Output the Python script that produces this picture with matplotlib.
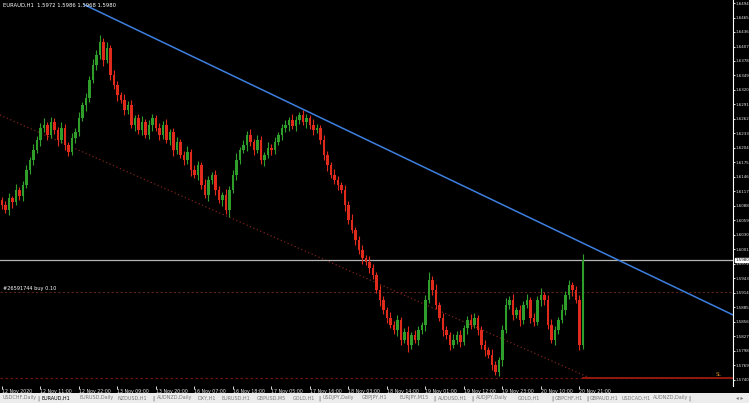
import numpy as np
import matplotlib
matplotlib.use("Agg")
import matplotlib.pyplot as plt
from matplotlib.patches import Rectangle

# EURAUD H1 candles (close prices, open = previous close)
first_open = 1.6100
closes = [
    1.6090, 1.6080, 1.6104, 1.6096, 1.6120, 1.6108, 1.6130, 1.6160, 1.6180, 1.6200,
    1.6220, 1.6244, 1.6250, 1.6230, 1.6256, 1.6240, 1.6220, 1.6244, 1.6210, 1.6196,
    1.6224, 1.6236, 1.6264, 1.6290, 1.6304, 1.6340, 1.6370, 1.6390, 1.6416, 1.6380,
    1.6404, 1.6350, 1.6330, 1.6310, 1.6300, 1.6280, 1.6290, 1.6250, 1.6264, 1.6240,
    1.6256, 1.6230, 1.6250, 1.6264, 1.6244, 1.6230, 1.6250, 1.6220, 1.6236, 1.6200,
    1.6216, 1.6190, 1.6180, 1.6196, 1.6160, 1.6150, 1.6170, 1.6130, 1.6110, 1.6140,
    1.6150, 1.6120, 1.6100, 1.6110, 1.6080, 1.6120, 1.6150, 1.6180, 1.6200, 1.6210,
    1.6230, 1.6216, 1.6200, 1.6220, 1.6180, 1.6190, 1.6204, 1.6200, 1.6216, 1.6230,
    1.6244, 1.6250, 1.6260, 1.6248, 1.6260, 1.6270, 1.6256, 1.6264, 1.6250, 1.6240,
    1.6244, 1.6220, 1.6190, 1.6170, 1.6150, 1.6140, 1.6130, 1.6120, 1.6090, 1.6060,
    1.6040, 1.6020, 1.6000, 1.5984, 1.5976, 1.5964, 1.5950, 1.5920, 1.5900, 1.5880,
    1.5864, 1.5850, 1.5840, 1.5860, 1.5820, 1.5836, 1.5810, 1.5830, 1.5820, 1.5840,
    1.5850, 1.5900, 1.5940, 1.5920, 1.5890, 1.5864, 1.5840, 1.5830, 1.5810, 1.5820,
    1.5830, 1.5816, 1.5844, 1.5860, 1.5850, 1.5864, 1.5840, 1.5810, 1.5800, 1.5790,
    1.5770, 1.5756, 1.5780, 1.5840, 1.5890, 1.5900, 1.5870, 1.5880, 1.5860, 1.5890,
    1.5900, 1.5864, 1.5856, 1.5900, 1.5910, 1.5900, 1.5850, 1.5820, 1.5840, 1.5860,
    1.5880, 1.5910, 1.5930, 1.5920, 1.5900, 1.5810, 1.5980,
]
# wick lengths in pips
wick_up = [
    6, 8, 10, 5, 12, 6, 8, 10, 6, 12,
    8, 10, 14, 6, 10, 8, 6, 12, 8, 6,
    10, 8, 12, 6, 10, 8, 12, 10, 14, 8,
    12, 6, 10, 8, 6, 12, 8, 10, 6, 8,
    12, 6, 10, 8, 6, 10, 8, 12, 6, 8,
    10, 6, 8, 12, 6, 10, 8, 6, 12, 8,
    6, 10, 8, 6, 12, 8, 10, 14, 6, 10,
    8, 12, 6, 10, 8, 6, 12, 8, 10, 6,
    8, 10, 6, 12, 8, 6, 10, 8, 6, 12,
    8, 6, 10, 8, 6, 12, 8, 6, 10, 8,
    12, 6, 8, 10, 6, 12, 8, 6, 10, 8,
    6, 12, 8, 10, 6, 8, 12, 6, 10, 8,
    6, 10, 16, 8, 12, 6, 10, 8, 6, 12,
    8, 10, 6, 8, 12, 10, 6, 8, 10, 6,
    12, 8, 6, 10, 14, 8, 12, 6, 10, 8,
    12, 6, 10, 8, 14, 6, 10, 12, 8, 6,
    12, 8, 10, 6, 8, 10, 12,
]
wick_dn = [
    8, 6, 10, 12, 6, 8, 10, 6, 8, 10,
    6, 12, 8, 10, 6, 8, 12, 6, 10, 8,
    6, 10, 8, 6, 12, 8, 6, 10, 8, 12,
    6, 10, 8, 12, 6, 10, 8, 6, 12, 8,
    10, 6, 8, 12, 6, 10, 8, 6, 10, 12,
    8, 6, 10, 8, 12, 6, 10, 8, 6, 12,
    8, 10, 6, 12, 8, 14, 6, 10, 8, 6,
    12, 8, 10, 6, 8, 12, 6, 10, 8, 6,
    10, 8, 12, 6, 10, 8, 6, 12, 8, 10,
    6, 8, 10, 12, 6, 8, 10, 6, 12, 8,
    6, 10, 8, 12, 6, 10, 8, 6, 12, 8,
    10, 6, 8, 12, 10, 6, 14, 8, 6, 10,
    8, 12, 6, 10, 8, 6, 12, 8, 10, 6,
    8, 10, 6, 12, 8, 6, 10, 8, 12, 6,
    10, 6, 8, 12, 6, 8, 10, 6, 12, 8,
    6, 10, 8, 6, 12, 10, 8, 6, 10, 8,
    6, 10, 8, 12, 6, 10, 8,
]

bid = 1.5980
order_price = 1.5916
sl_price = 1.5744
header = "EURAUD,H1  1.5972 1.5986 1.5968 1.5980"
order_label = "#26591744 buy 0.10"

# trend lines (bar index, price)
upper_x = [23.7, 208.9]
upper_y = [1.6490, 1.5870]
lower_x = [-0.6, 168.0]
lower_y = [1.6270, 1.5744]

date_labels = ["12 Nov 2020", "12 Nov 11:00", "12 Nov 22:00", "13 Nov 09:00",
               "13 Nov 20:00", "16 Nov 07:00", "16 Nov 18:00", "17 Nov 05:00",
               "17 Nov 16:00", "18 Nov 03:00", "18 Nov 14:00", "19 Nov 01:00",
               "19 Nov 12:00", "19 Nov 23:00", "20 Nov 10:00", "20 Nov 21:00"]
label_step = 11

tabs = [(3, "USDCHF,Daily"), (42, "EURAUD,H1"), (79, "EURUSD,Daily"),
        (117, "NZDUSD,H1"), (157, "AUDNZD,Daily"), (197, "DXY,H1"),
        (222, "EURUSD,H1"), (257, "GBPUSD,M5"), (293, "GOLD,H1"),
        (323, "USDJPY,Daily"), (362, "GBPJPY,H1"), (400, "EURJPY,M15"),
        (438, "AUDUSD,H1"), (476, "AUDJPY,Daily"), (518, "GOLD,H1"),
        (555, "GBPCHF,H1"), (590, "GBPAUD,H1"), (622, "USDCAD,H1"),
        (653, "AUDNZD,Daily")]
tab_seps = [38.5, 153, 319, 434.5, 472, 552, 587.5, 689]

assert len(closes) == len(wick_up) == len(wick_dn)

W, H = 749, 403
fig = plt.figure(figsize=(W / 100, H / 100), dpi=100, facecolor="black")
ax = fig.add_axes([0, 17 / H, 733 / W, 386 / H], facecolor="black")

n = len(closes)
x = np.arange(n)
c = np.array(closes)
o = np.array([first_open] + closes[:-1])
hi = np.maximum(o, c) + np.array(wick_up) * 0.0001
lo = np.minimum(o, c) - np.array(wick_dn) * 0.0001
up = c >= o
col = np.where(up, "#2f9e2a", "#e02a1c")

ax.vlines(x, lo, hi, colors=col, lw=0.8, zorder=3)
ax.bar(x, np.maximum(np.abs(c - o), 0.00012), bottom=np.minimum(o, c),
       width=0.6, color=col, linewidth=0, zorder=4)

ax.plot(upper_x, upper_y, color="#3d7fe0", lw=1.1, zorder=5)
ax.plot(lower_x, lower_y, color="#7a2418", lw=0.9, ls=(0, (1, 2)), zorder=2)
ax.axhline(bid, color="#b4b4b4", lw=0.9, zorder=2)
ax.axhline(order_price, color="#5a2418", lw=0.8, ls=(0, (2, 2)), zorder=1)
ax.axhline(sl_price, color="#6e1410", lw=0.9, ls=(0, (2, 2)), zorder=1)
ax.plot([166, 208.9], [sl_price, sl_price], color="#9a1a10", lw=1.3, zorder=2)
ax.text(205.5, sl_price + 0.0002, "SL", color="#c08020", fontsize=3.5,
        ha="right", va="bottom")
ax.text(0.3, order_price + 0.0002, order_label, color="white", fontsize=3.6,
        ha="left", va="bottom")

ax.set_xlim(-0.57, 208.86)
ax.set_ylim(1.5728, 1.6500)

yt = np.arange(1.6494, 1.5730, -0.0029)
ax.yaxis.tick_right()
ax.set_yticks(yt)
ax.set_yticklabels([f"{v:.4f}" for v in yt])
ax.tick_params(axis="y", colors="white", labelsize=2.9, length=1.5, width=0.6,
               pad=0.5, labelcolor="#e6e6e6")
ax.annotate(f"{bid:.4f}", xy=(1.0, bid), xycoords=("axes fraction", "data"),
            xytext=(1.5, 0), textcoords="offset points", fontsize=2.9,
            color="black", va="center", ha="left", annotation_clip=False,
            bbox=dict(boxstyle="square,pad=0.1", fc="white", ec="white"))

xt = np.arange(len(date_labels)) * label_step
ax.set_xticks(xt)
ax.set_xticklabels(date_labels)
for lab in ax.get_xticklabels():
    lab.set_ha("left")
ax.tick_params(axis="x", colors="white", labelsize=3.4, length=2, width=0.6,
               pad=0.5, labelcolor="#e6e6e6")

for s in ["top", "left", "bottom"]:
    ax.spines[s].set_visible(False)
ax.spines["right"].set_color("white")
ax.spines["right"].set_linewidth(0.8)

fig.text(3 / W, 1 - 5 / H, header, color="white", fontsize=3.8,
         ha="left", va="center")

# symbol tabs at the bottom
fig.patches.append(Rectangle((0, 0), 1, 10 / H, transform=fig.transFigure,
                             facecolor="#ececec", edgecolor="none"))
for px, name in tabs:
    fig.text(px / W, 5 / H, name, fontsize=3.5, ha="left", va="center",
             color="black" if px == 42 else "#7a7a7a")
for px in tab_seps:
    fig.text(px / W, 5 / H, "|", fontsize=4.5, ha="center", va="center",
             color="#555555")
fig.text(740 / W, 5 / H, "◂ ▸", fontsize=4, ha="center", va="center",
         color="#777777")

fig.savefig("out.png", dpi=100, facecolor="black")
